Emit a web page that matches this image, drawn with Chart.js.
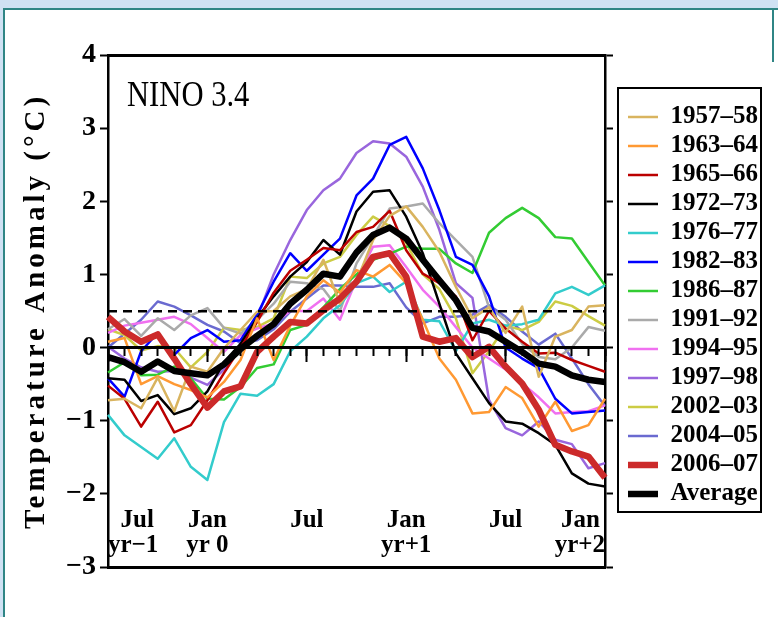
<!DOCTYPE html>
<html>
<head>
<meta charset="utf-8">
<script src="https://cdn.jsdelivr.net/npm/chart.js@4.4.1/dist/chart.umd.min.js"></script>
<style>
  html, body { margin: 0; padding: 0; background: #cfe1f3; }
  #frame { position: absolute; left: 3px; top: 8px; width: 775px; height: 609px; background: #fff;
           border-left: 2px solid #2f8585; border-top: 2px solid #2f8585; box-sizing: border-box; }
  #edge { position: absolute; left: 772px; top: 8px; width: 2px; height: 54px; background: #2f8585; }
  #wrap { position: absolute; left: 0; top: 0; width: 778px; height: 617px; }
</style>
</head>
<body>
<div id="frame"></div>
<div id="edge"></div>
<div id="wrap"><canvas id="c" width="778" height="617"></canvas></div>
<script>
// Months from July of year -1 through January of year +2
const months = ['Jul','Aug','Sep','Oct','Nov','Dec','Jan','Feb','Mar','Apr','May','Jun',
                'Jul','Aug','Sep','Oct','Nov','Dec','Jan','Feb','Mar','Apr','May','Jun',
                'Jul','Aug','Sep','Oct','Nov','Dec','Jan'];

// Axis label text shown every six months
const xTickLines = [['\u2002Jul', 'yr\u22121'], ['Jan', 'yr 0'], ['Jul'], ['Jan', 'yr+1'], ['Jul'], ['Jan\u2009', 'yr+2']];
const yTicksMin = -3;
const yTicksMax = 4;
const thresholdLevel = 0.5;

// NINO 3.4 SST anomalies (°C) for each El Niño event
const el1957 = [-0.72,-0.70,-0.83,-0.41,-0.87,-0.26,-0.33,-0.01,0.24,0.49, 0.50,0.70,0.80,1.20,0.60,0.90,1.47,1.80,1.93,1.65, 1.31,0.83,0.40,0.55,0.20,0.56,-0.40,0.15,0.24,0.56,0.58];
const el1963 = [0.08,0.13,-0.50,-0.39,-0.50,-0.58,-0.68,-0.47,-0.17,0.40, -0.17,0.30,0.70,0.92,0.75,1.06,0.97,1.13,0.88,0.38, -0.15,-0.44,-0.90,-0.88,-0.54,-0.69,-1.08,-0.74,-1.14,-1.06,-0.70];
const el1965 = [-0.52,-0.70,-1.08,-0.74,-1.16,-1.06,-0.72,-0.35,0.00,0.35, 0.75,1.05,1.20,1.36,1.33,1.58,1.65,1.87,1.33,1.01, 0.88,0.70,0.10,0.50,0.26,0.08,-0.08,-0.07,-0.17,-0.25,-0.33];
const el1972 = [-0.42,-0.44,-0.73,-0.65,-0.91,-0.83,-0.60,-0.20,0.05,0.40, 0.70,0.97,1.17,1.47,1.27,1.86,2.13,2.15,1.79,1.29, 0.60,-0.08,-0.42,-0.76,-1.01,-1.04,-1.17,-1.33,-1.72,-1.86,-1.90];
const el1976 = [-0.92,-1.20,-1.36,-1.52,-1.24,-1.63,-1.81,-1.02,-0.63,-0.66, -0.50,-0.05,0.15,0.40,0.58,0.88,0.97,0.76,0.90,0.38, 0.36,-0.05,0.33,0.38,0.30,0.32,0.38,0.74,0.83,0.72,0.85];
const el1982 = [-0.42,-0.67,-0.05,0.20,-0.10,0.13,0.24,0.08,0.10,0.45, 0.90,1.29,1.05,1.27,1.49,2.08,2.31,2.77,2.88,2.45, 1.88,1.24,1.13,0.70,0.00,-0.15,-0.28,-0.70,-0.90,-0.88,-0.86];
const el1986 = [-0.34,-0.20,-0.38,-0.37,-0.26,-0.42,-0.70,-0.71,-0.54,-0.28, -0.23,0.24,0.31,0.55,0.80,1.00,1.20,1.28,1.38,1.35, 1.35,1.15,1.02,1.57,1.77,1.91,1.77,1.51,1.49,1.17,0.85];
const el1991 = [0.25,0.39,0.16,0.40,0.24,0.44,0.54,0.27,0.19,0.38, 0.60,0.90,0.88,0.80,0.50,1.15,1.52,1.90,1.93,1.97, 1.70,1.47,1.24,0.55,0.38,0.05,-0.13,-0.16,0.00,0.28,0.23];
const el1994 = [0.20,0.30,0.34,0.38,0.42,0.32,0.13,-0.06,0.17,0.26, 0.33,0.50,0.50,0.67,0.38,0.93,1.38,1.40,1.10,0.79, 0.56,0.28,0.00,-0.15,-0.30,-0.49,-0.68,-0.90,-0.88,-0.87,-0.79];
const el1997 = [0.01,-0.15,-0.27,-0.33,-0.32,-0.41,-0.51,-0.30,0.02,0.40, 1.00,1.47,1.88,2.15,2.31,2.66,2.82,2.79,2.61,2.20, 1.61,0.88,0.68,-0.72,-1.10,-1.20,-1.01,-1.26,-1.32,-1.65,-1.58];
const el2002 = [0.25,0.17,-0.04,0.02,-0.01,-0.27,-0.06,0.27,0.24,0.28, 0.40,0.97,0.95,1.15,1.24,1.54,1.79,1.66,1.43,1.00, 0.80,0.40,-0.35,-0.05,0.30,0.24,0.35,0.63,0.57,0.43,0.30];
const el2004 = [0.00,0.19,0.38,0.63,0.56,0.44,0.31,0.22,0.06,0.10, 0.25,0.49,0.67,0.85,0.85,0.83,0.83,0.88,0.55,0.33, 0.42,0.42,0.45,0.58,0.42,0.22,0.04,0.19,-0.15,-0.50,-0.80];
const el2006 = [0.42,0.22,0.08,0.18,-0.15,-0.50,-0.82,-0.60,-0.53,-0.06, 0.15,0.35,0.33,0.51,0.67,0.90,1.24,1.29,0.97,0.15, 0.08,0.13,-0.13,0.01,-0.26,-0.49,-0.85,-1.33,-1.42,-1.49,-1.78];
const average = [-0.13,-0.20,-0.33,-0.19,-0.32,-0.35,-0.38,-0.23,-0.02,0.16, 0.32,0.60,0.79,1.01,0.97,1.30,1.54,1.64,1.49,1.20, 0.92,0.65,0.27,0.22,0.08,-0.06,-0.22,-0.26,-0.38,-0.44,-0.47];

const FONT = "'Liberation Serif', 'Times New Roman', serif";
Chart.defaults.font.family = FONT;
Chart.defaults.color = '#000';

function series(label, data, color, width, order) {
  return { label, data, borderColor: color, backgroundColor: color, borderWidth: width,
           pointRadius: 0, pointHoverRadius: 0, tension: 0, fill: false, order,
           borderJoinStyle: 'round', borderCapStyle: 'butt' };
}

const datasets = [
  series('1957\u201358', el1957, '#d9b45f', 2.5, 5),
  series('1963\u201364', el1963, '#ff9933', 2.5, 5),
  series('1965\u201366', el1965, '#bb0000', 2.5, 5),
  series('1972\u201373', el1972, '#000000', 2.5, 5),
  series('1976\u201377', el1976, '#33cccc', 2.5, 5),
  series('1982\u201383', el1982, '#0000ff', 2.5, 5),
  series('1986\u201387', el1986, '#33cc33', 2.5, 5),
  series('1991\u201392', el1991, '#aaaaaa', 2.5, 5),
  series('1994\u201395', el1994, '#f070f0', 2.5, 5),
  series('1997\u201398', el1997, '#9966dd', 2.5, 5),
  series('2002\u201303', el2002, '#cccc44', 2.5, 5),
  series('2004\u201305', el2004, '#6a6ad0', 2.5, 5),
  series('2006\u201307', el2006, '#cc2a2a', 6.5, 1),
  series('Average', average, '#000000', 6.5, 0)
];

const minus = v => (v < 0 ? '\u2212' + Math.abs(v) : String(v));

// Region name in the top-left corner of the plot
const regionLabel = {
  id: 'regionLabel',
  afterDraw(chart) {
    const { ctx, chartArea } = chart;
    ctx.save();
    ctx.font = "36px " + FONT;
    ctx.fillStyle = '#000';
    ctx.textBaseline = 'alphabetic';
    ctx.translate(chartArea.left + 19, chartArea.top + 51);
    ctx.scale(0.85, 1);
    ctx.fillText('NINO 3.4', 0, 0);
    ctx.restore();
  }
};

// Spaced-out lettering for the vertical axis title
const spacedTitle = {
  id: 'spacedTitle',
  beforeDraw(chart) {
    const s = chart.scales.y;
    if (s && !s.__spaced) {
      const base = s.drawTitle;
      s.drawTitle = function (...args) {
        this.ctx.save();
        this.ctx.letterSpacing = '4px';
        base.apply(this, args);
        this.ctx.restore();
      };
      s.__spaced = true;
    }
  }
};

// Frame around the legend entries
const legendFrame = {
  id: 'legendFrame',
  afterDraw(chart) {
    const hb = chart.legend && chart.legend.legendHitBoxes;
    if (!hb || !hb.length) return;
    const l = Math.min(...hb.map(h => h.left)) - 10;
    const t = Math.min(...hb.map(h => h.top)) - 16.5;
    const r = Math.max(...hb.map(h => h.left + h.width)) + 3;
    const b = Math.max(...hb.map(h => h.top + h.height)) + 5.5;
    const ctx = chart.ctx;
    ctx.save();
    ctx.lineWidth = 2;
    ctx.strokeStyle = '#000';
    ctx.strokeRect(l, t, r - l, b - t);
    ctx.restore();
  }
};

new Chart(document.getElementById('c'), {
  type: 'line',
  data: { labels: months, datasets },
  plugins: [regionLabel, spacedTitle, legendFrame],
  options: {
    responsive: false,
    devicePixelRatio: 1,
    animation: false,
    layout: { padding: { top: 55, bottom: 50, left: 0, right: 10 } },
    plugins: {
      tooltip: { enabled: false },
      legend: {
        position: 'right',
        align: 'start',
        maxWidth: 145,
        title: { display: true, text: '', font: { size: 10 }, padding: { top: 33.5, bottom: 0 } },
        labels: {
          usePointStyle: true,
          pointStyle: 'line',
          pointStyleWidth: 30,
          boxHeight: 25,
          padding: 4,
          color: '#000',
          font: { size: 25, weight: 'bold' },
          sort: (a, b) => a.datasetIndex - b.datasetIndex
        }
      }
    },
    scales: {
      x: {
        type: 'category', position: { y: yTicksMin }, offset: false,
        grid: { display: false },
        border: { display: true, width: 3, color: '#000' },
        ticks: {
          autoSkip: false, maxRotation: 0, minRotation: 0, align: 'inner', padding: -67,
          color: '#000', font: { size: 25, weight: 'bold', lineHeight: 1.0 },
          callback: (v, i) => (i % 6 === 0 ? xTickLines[i / 6] : null)
        }
      },
      xTop: {
        type: 'category', position: 'top', offset: false,
        grid: { display: false },
        border: { display: true, width: 3, color: '#000' },
        ticks: { display: false },
        afterFit: s => { s.height = 0; }
      },
      xZero: {
        type: 'category', position: { y: 0 }, offset: false,
        grid: { display: true, drawOnChartArea: false, drawTicks: true, tickLength: 7, tickWidth: 2, tickColor: '#000', z: 1 },
        border: { display: true, width: 3, color: '#000', z: 1 },
        ticks: { display: false }
      },
      xSeason: {
        type: 'category', position: { y: 0 }, offset: false,
        grid: { display: true, drawOnChartArea: false, drawTicks: true, tickLength: 14,
                tickWidth: c => (c.index % 6 === 0 ? 2 : 0), tickColor: '#000', z: 1 },
        border: { display: false },
        ticks: { display: false }
      },
      y: {
        type: 'linear', position: 'left', min: yTicksMin, max: yTicksMax,
        ticks: { stepSize: 1, padding: 4, color: '#000', font: { size: 28, weight: 'bold' }, callback: minus },
        grid: { drawOnChartArea: false, tickLength: 8, tickWidth: 2, tickColor: '#000' },
        border: { display: true, width: 2.5, color: '#000' },
        title: { display: true, text: 'Temperature Anomaly (\u00B0C)', color: '#000',
                 font: { size: 29, weight: 'bold' }, padding: { top: 19, bottom: 0 } },
        afterFit: s => { s.width = 108; }
      },
      y2: {
        type: 'linear', position: 'right', min: yTicksMin, max: yTicksMax,
        ticks: { display: false, stepSize: 1 },
        grid: { drawOnChartArea: false, tickLength: 8, tickWidth: 2, tickColor: '#000' },
        border: { display: true, width: 2.5, color: '#000' },
        afterFit: s => { s.width = 19; }
      },
      yRef: {
        type: 'linear', position: 'right', min: yTicksMin, max: yTicksMax,
        ticks: { display: false },
        afterBuildTicks: s => { s.ticks = [{ value: thresholdLevel }]; },
        grid: { drawOnChartArea: true, drawTicks: false, color: '#000', lineWidth: 2.5, z: 1 },
        border: { display: false, dash: [9, 6] },
        afterFit: s => { s.width = 0; }
      }
    }
  }
});
</script>
</body>
</html>
